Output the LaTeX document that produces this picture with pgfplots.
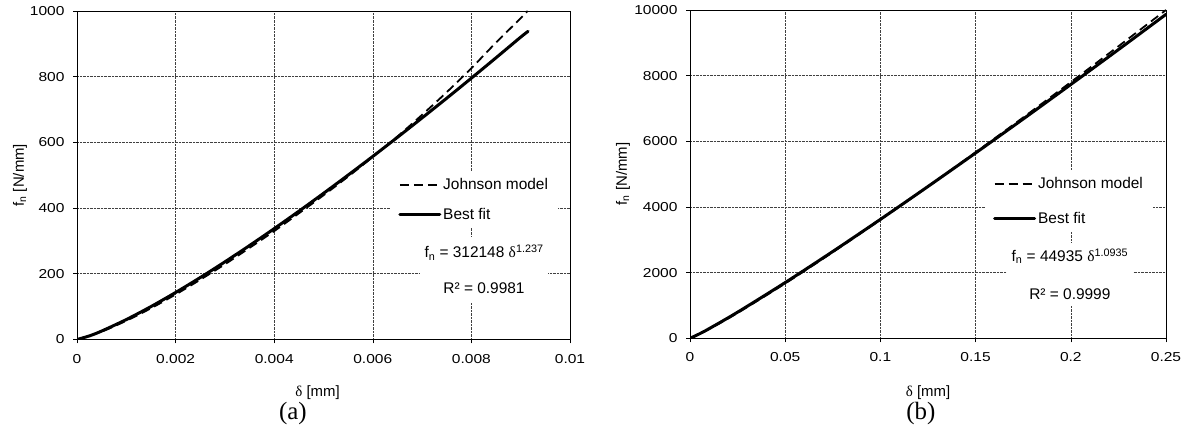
\documentclass[border=0pt]{standalone}
\usepackage{fontspec}
\setmainfont{Liberation Sans}
\newfontfamily\tnr{Liberation Serif}
\newfontfamily\tickfont{Liberation Sans}[FakeStretch=1.2]
\usepackage{pgfplots}
\pgfplotsset{compat=1.18}

\pgfplotsset{
  panel/.style={
    scale only axis, anchor=south west,
    tick align=outside, xtick pos=bottom, ytick pos=left,
    major tick length=4bp,
    every tick/.style={black, line width=0.6bp},
    axis line style={black, line width=0.8bp},
    grid=major, grid style={densely dotted, black!75, line width=0.6bp},
    scaled x ticks=false, scaled y ticks=false,
    tick label style={font=\tickfont\fontsize{13}{15}\selectfont},
    xticklabel style={yshift=-7bp}, yticklabel style={xshift=-5bp},
    label style={font=\fontsize{15}{17}\selectfont},
    clip mode=individual,
    legend cell align=left,
    legend image code/.code={\draw[##1] (0bp,0bp) -- (40bp,0bp);},
  },
  johnson/.style={black, line width=1.8bp, dash pattern=on 9bp off 5bp},
  bestfit/.style={black, line width=3bp, line cap=round},
}

\begin{document}
\begin{tikzpicture}
\useasboundingbox (0,0) rectangle (1192bp,436bp);

% (a)
\begin{axis}[panel,
  at={(77bp,96.5bp)}, width=493bp, height=328.5bp,
  xmin=0, xmax=0.01, ymin=0, ymax=1000,
  xtick={0,0.002,0.004,0.006,0.008,0.01},
  xticklabels={0,0.002,0.004,0.006,0.008,0.01},
  ytick={0,200,400,600,800,1000},
  yticklabels={0,200,400,600,800,1000},
  xlabel={{\tnr δ} [mm]},
  ylabel={f\textsubscript{n} [N/mm]},
  xlabel style={at={(axis description cs:0.488,-0.1629)}, anchor=center},
  ylabel style={at={(axis description cs:-0.1156,0.5)}, anchor=center},
  legend style={at={(0.635,0.512)}, anchor=north west, draw=none, fill=white,
    font=\fontsize{15.5}{18}\selectfont, inner xsep=8bp, inner ysep=5bp, row sep=13bp},
]
\addplot[johnson, smooth] coordinates {
(0,0) (0.0005,24) (0.001,57) (0.0015,95) (0.002,137) (0.0025,182) (0.003,229)
(0.0035,279) (0.004,330) (0.0045,384) (0.005,439) (0.0055,496) (0.006,556)
(0.0065,618) (0.007,684) (0.0075,753) (0.008,826) (0.0085,904) (0.009,978) (0.00914,1000)};
\addlegendentry{Johnson model}
\addplot[bestfit, smooth] coordinates {
(0,0) (0.00025,10.9) (0.0005,25.7) (0.001,60.7) (0.0015,100.2) (0.002,143.1) (0.0025,188.6)
(0.003,236.4) (0.0035,286.1) (0.004,337.5) (0.0045,390.5) (0.005,444.9)
(0.0055,500.6) (0.006,557.4) (0.0065,615.5) (0.007,674.6) (0.0075,734.6)
(0.008,795.7) (0.0085,857.7) (0.009,920.5) (0.00915,938)};
\addlegendentry{Best fit}
\node[fill=white, inner sep=0pt, minimum width=128bp, minimum height=65bp, align=center,
  font=\fontsize{15.5}{36}\selectfont] at (rel axis cs:0.8256,0.213)
  {f\textsubscript{n} = 312148 {\tnr δ}\textsuperscript{1.237}\\R² = 0.9981};
\node[font=\tnr\fontsize{25}{27}\selectfont] at (rel axis cs:0.438,0) [yshift=-74bp] {(a)};
\end{axis}

% (b)
\begin{axis}[panel,
  at={(690bp,97.7bp)}, width=476bp, height=328.3bp,
  xmin=0, xmax=0.25, ymin=0, ymax=10000,
  xtick={0,0.05,0.1,0.15,0.2,0.25},
  xticklabels={0,0.05,0.1,0.15,0.2,0.25},
  ytick={0,2000,4000,6000,8000,10000},
  yticklabels={0,2000,4000,6000,8000,10000},
  xlabel={{\tnr δ} [mm]},
  ylabel={f\textsubscript{n} [N/mm]},
  xlabel style={at={(axis description cs:0.5,-0.1666)}, anchor=center},
  ylabel style={at={(axis description cs:-0.1408,0.5)}, anchor=center},
  legend style={at={(0.6197,0.512)}, anchor=north west, draw=none, fill=white,
    font=\fontsize{15.5}{18}\selectfont, inner xsep=8bp, inner ysep=5bp, row sep=18bp},
]
\addplot[johnson, smooth] coordinates {
(0,0) (0.01,279) (0.025,773) (0.05,1671) (0.075,2623) (0.1,3611) (0.125,4627)
(0.15,5667) (0.175,6727) (0.2,7803) (0.225,8895) (0.25,10000)};
\addlegendentry{Johnson model}
\addplot[bestfit, smooth] coordinates {
(0,0) (0.005,136.9) (0.01,292.2) (0.025,795.6) (0.05,1698) (0.075,2645) (0.1,3623)
(0.125,4625) (0.15,5645) (0.175,6680) (0.2,7731) (0.225,8793) (0.25,9868)};
\addlegendentry{Best fit}
\node[fill=white, inner sep=0pt, minimum width=126bp, minimum height=62bp, align=center,
  font=\fontsize{15.5}{38}\selectfont] at (rel axis cs:0.798,0.196)
  {f\textsubscript{n} = 44935 {\tnr δ}\textsuperscript{1.0935}\\R² = 0.9999};
\node[font=\tnr\fontsize{25}{27}\selectfont] at (rel axis cs:0.485,0) [yshift=-75bp] {(b)};
\end{axis}
\end{tikzpicture}
\end{document}
